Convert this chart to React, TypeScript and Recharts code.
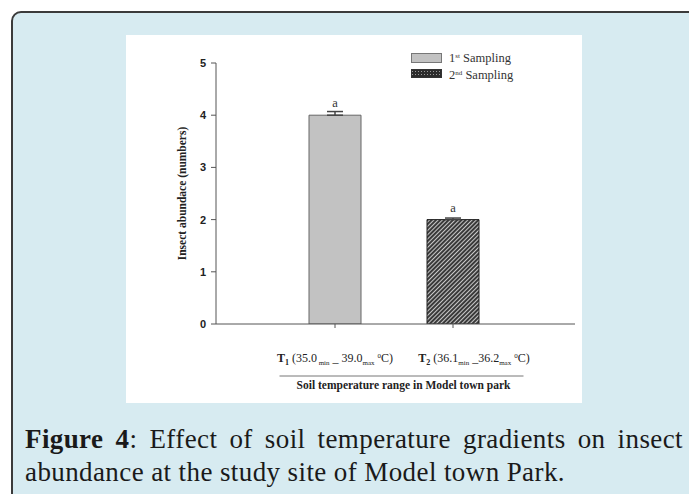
import React from "react";
import { BarChart, Bar, XAxis, YAxis, ErrorBar, LabelList, Legend } from "recharts";

const categories = ["T1", "T2"];
const firstSampling = [4.0, null];
const secondSampling = [null, 2.0];
const firstErr = [0.07, 0];
const secondErr = [0, 0.03];
const sigLetters = ["a", "a"];
const tempMin = ["35.0", "36.1"];
const tempMax = ["39.0", "36.2"];
const yTicks = [0, 1, 2, 3, 4, 5];
const seriesNames = ["1st Sampling", "2nd Sampling"];

const data = categories.map((c, i) => ({
  cat: c,
  s1: firstSampling[i],
  s2: secondSampling[i],
  e1: [0, firstErr[i]],
  e2: [0, secondErr[i]],
  l1: firstSampling[i] == null ? null : sigLetters[i],
  l2: secondSampling[i] == null ? null : sigLetters[i],
}));

const SERIF = "'Liberation Serif', 'Times New Roman', serif";
const SANS = "'Liberation Sans', Arial, sans-serif";

const XTick = (props: any) => {
  const { x, y, payload, index } = props;
  const i = categories.indexOf(payload.value);
  const idx = i >= 0 ? i : index;
  const num = payload.value.slice(1);
  const shift = idx === 1 ? 21 : 0;
  return (
    <text x={x + shift} y={y + 32} textAnchor="middle" fontFamily={SERIF} fontSize={12} fill="#222">
      <tspan fontWeight="bold">T</tspan>
      <tspan fontWeight="bold" fontSize={8} dy={3}>{num}</tspan>
      <tspan dy={-3}>{` (${tempMin[idx]}`}</tspan>
      <tspan fontSize={7} dy={3}>{idx === 0 ? " min" : "min"}</tspan>
      <tspan dy={-3}>{idx === 0 ? " _ " : " _"}</tspan>
      <tspan>{tempMax[idx]}</tspan>
      <tspan fontSize={7} dy={3}>max</tspan>
      <tspan dy={-3}> </tspan>
      <tspan fontSize={7} dy={-4}>0</tspan>
      <tspan dy={4}>C)</tspan>
    </text>
  );
};

const XTitle = (props: any) => {
  const { viewBox } = props;
  const cx = viewBox.x + viewBox.width / 2 + 6;
  const top = viewBox.y;
  return (
    <g>
      <line x1={cx - 122} x2={cx + 122} y1={top + 52} y2={top + 52} stroke="#777" strokeWidth={1} />
      <text x={cx + 2} y={top + 65} textAnchor="middle" fontFamily={SERIF} fontSize={11.5} fontWeight="bold" fill="#222">
        Soil temperature range in Model town park
      </text>
    </g>
  );
};

const YTitle = (props: any) => {
  const { viewBox } = props;
  const cx = viewBox.x + 56;
  const cy = viewBox.y + viewBox.height / 2;
  return (
    <text
      x={cx}
      y={cy}
      transform={`rotate(-90, ${cx}, ${cy})`}
      textAnchor="middle"
      dominantBaseline="central"
      fontFamily={SERIF}
      fontSize={11.5}
      fontWeight="bold"
      fill="#222"
    >
      Insect abundace (numbers)
    </text>
  );
};

const LegendContent = () => (
  <svg width={140} height={40} style={{ overflow: "visible" }}>
    <rect x={0.5} y={4.5} width={30} height={9} fill="#c2c2c2" stroke="#777" />
    <rect x={0.5} y={20.5} width={30} height={8} fill="url(#dots)" stroke="#333" />
    <text x={38} y={13} fontFamily={SERIF} fontSize={12.5} fill="#333">
      <tspan>1</tspan>
      <tspan fontSize={7} dy={-4}>st</tspan>
      <tspan dy={4}>{"  Sampling"}</tspan>
    </text>
    <text x={38} y={30} fontFamily={SERIF} fontSize={12.5} fill="#333">
      <tspan>2</tspan>
      <tspan fontSize={7} dy={-4}>nd</tspan>
      <tspan dy={4}>{" Sampling"}</tspan>
    </text>
  </svg>
);

export default function App() {
  return (
    <div
      style={{
        position: "fixed",
        left: 0,
        top: 0,
        width: 689,
        height: 494,
        overflow: "hidden",
        background: "#fff",
      }}
    >
      <div
        style={{
          position: "absolute",
          left: 11,
          top: 11,
          width: 720,
          height: 530,
          background: "#d7ebf1",
          border: "2px solid #3b3b3b",
          borderTopLeftRadius: 10,
          boxSizing: "border-box",
        }}
      />
      <div style={{ position: "absolute", left: 126, top: 35, width: 456, height: 368, background: "#fff" }}>
        <BarChart width={456} height={368} data={data} margin={{ top: 28, right: 7, bottom: 19, left: 0 }}>
          <defs>
            <pattern id="hatch" patternUnits="userSpaceOnUse" width={3} height={3} patternTransform="rotate(45)">
              <rect x={0} y={0} width={3} height={3} fill="#3a3a3a" />
              <line x1={0.5} y1={0} x2={0.5} y2={3} stroke="#c8c8c8" strokeWidth={1} />
            </pattern>
            <pattern id="dots" patternUnits="userSpaceOnUse" width={3} height={3}>
              <rect x={0} y={0} width={3} height={3} fill="#2c2c2c" />
              <rect x={1} y={1} width={1} height={1} fill="#9a9a9a" />
            </pattern>
          </defs>
          <XAxis
            dataKey="cat"
            height={60}
            padding={{ left: 60, right: 63 }}
            axisLine={{ stroke: "#555", strokeWidth: 1 }}
            tickLine={{ stroke: "#555" }}
            tickSize={4}
            tickMargin={2}
            tick={<XTick />}
            interval={0}
            label={<XTitle />}
          />
          <YAxis
            width={90}
            domain={[0, 5]}
            ticks={yTicks}
            allowDataOverflow
            axisLine={{ stroke: "#555", strokeWidth: 1 }}
            tickLine={{ stroke: "#555" }}
            tickSize={5}
            tickMargin={5}
            tick={{ fontFamily: SANS, fontSize: 11, fontWeight: "bold", fill: "#222" }}
            label={<YTitle />}
          />
          <Legend
            layout="vertical"
            align="center"
            verticalAlign="middle"
            content={<LegendContent />}
            wrapperStyle={{ position: "absolute", left: 285, top: 14, width: 140, height: 40 }}
          />
          <Bar
            dataKey="s1"
            name={seriesNames[0]}
            stackId="s"
            barSize={52}
            fill="#c2c2c2"
            stroke="#666"
            strokeWidth={1}
            isAnimationActive={false}
          >
            <ErrorBar dataKey="e1" width={8} stroke="#444" strokeWidth={1.5} direction="y" />
            <LabelList dataKey="l1" position="top" offset={8} fontFamily={SERIF} fontSize={12.5} fill="#333" />
          </Bar>
          <Bar
            dataKey="s2"
            name={seriesNames[1]}
            stackId="s"
            barSize={52}
            fill="url(#hatch)"
            stroke="#222"
            strokeWidth={1}
            isAnimationActive={false}
          >
            <ErrorBar dataKey="e2" width={8} stroke="#444" strokeWidth={1.5} direction="y" />
            <LabelList dataKey="l2" position="top" offset={8} fontFamily={SERIF} fontSize={12.5} fill="#333" />
          </Bar>
        </BarChart>
      </div>
      <div
        style={{
          position: "absolute",
          left: 25,
          top: 423,
          width: 658,
          fontFamily: SERIF,
          fontSize: 27,
          letterSpacing: 0.4,
          lineHeight: "33px",
          color: "#1a1a1a",
          textAlign: "justify",
          textAlignLast: "justify",
          whiteSpace: "nowrap",
        }}
      >
        <b>Figure 4</b>: Effect of soil temperature gradients on insect
      </div>
      <div
        style={{
          position: "absolute",
          left: 25,
          top: 456,
          width: 658,
          fontFamily: SERIF,
          fontSize: 27,
          letterSpacing: 0.4,
          lineHeight: "33px",
          color: "#1a1a1a",
          whiteSpace: "nowrap",
        }}
      >
        abundance at the study site of Model town Park.
      </div>
    </div>
  );
}
